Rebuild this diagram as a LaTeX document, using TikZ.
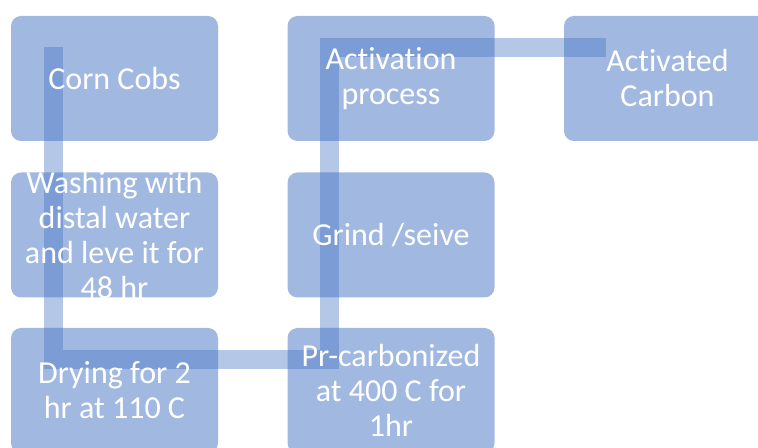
\documentclass[tikz,border=0pt]{standalone}
\usepackage{fontspec}
\setmainfont{Carlito}[Ligatures=NoCommon]
\usetikzlibrary{calc}
\definecolor{accent}{RGB}{68,114,196}

\begin{document}
\begin{tikzpicture}[x=0.75pt, y=-0.75pt,
		stepbox/.style={rectangle, rounded corners=7.5pt, fill=accent, fill opacity=0.5,
			minimum width=155.25pt, minimum height=93.75pt, inner sep=0pt},
		steptext/.style={text=white, align=center, font=\fontsize{24}{26.25}\selectfont},
		flow/.style={draw=accent, draw opacity=0.4, line width=14.25pt, line join=miter}]
		\clip (0,0) rectangle (758,448);

		\draw
		(114.5, 78.5) node [stepbox] (corn) {}
		(114.5, 235) node [stepbox] (wash) {}
		(114.5, 390.5) node [stepbox] (dry) {}
		(391, 390.5) node [stepbox] (precarb) {}
		(391, 235) node [stepbox] (grind) {}
		(391, 78.5) node [stepbox] (activ) {}
		(667.5, 78.5) node [stepbox] (carbon) {};

		\draw[flow] ($(corn.north west)+(42.5,31.5)$) |- ($(precarb.north west)+(42.5,31.5)$)
			|- ($(carbon.north west)+(42.5,31.5)$);

		\draw
		(corn) node [steptext] (corn-t) {Corn Cobs}
		(wash) node [steptext] (wash-t) {Washing with\\distal water\\and leve it for\\48 hr}
		(dry) node [steptext] (dry-t) {Drying for 2\\hr at 110 C}
		(precarb) node [steptext] (precarb-t) {Pr-carbonized\\at 400 C for\\1hr}
		(grind) node [steptext] (grind-t) {Grind /seive}
		(activ) node [steptext] (activ-t) {Activation\\process}
		(carbon) node [steptext] (carbon-t) {Activated\\Carbon};
	\end{tikzpicture}
\end{document}
